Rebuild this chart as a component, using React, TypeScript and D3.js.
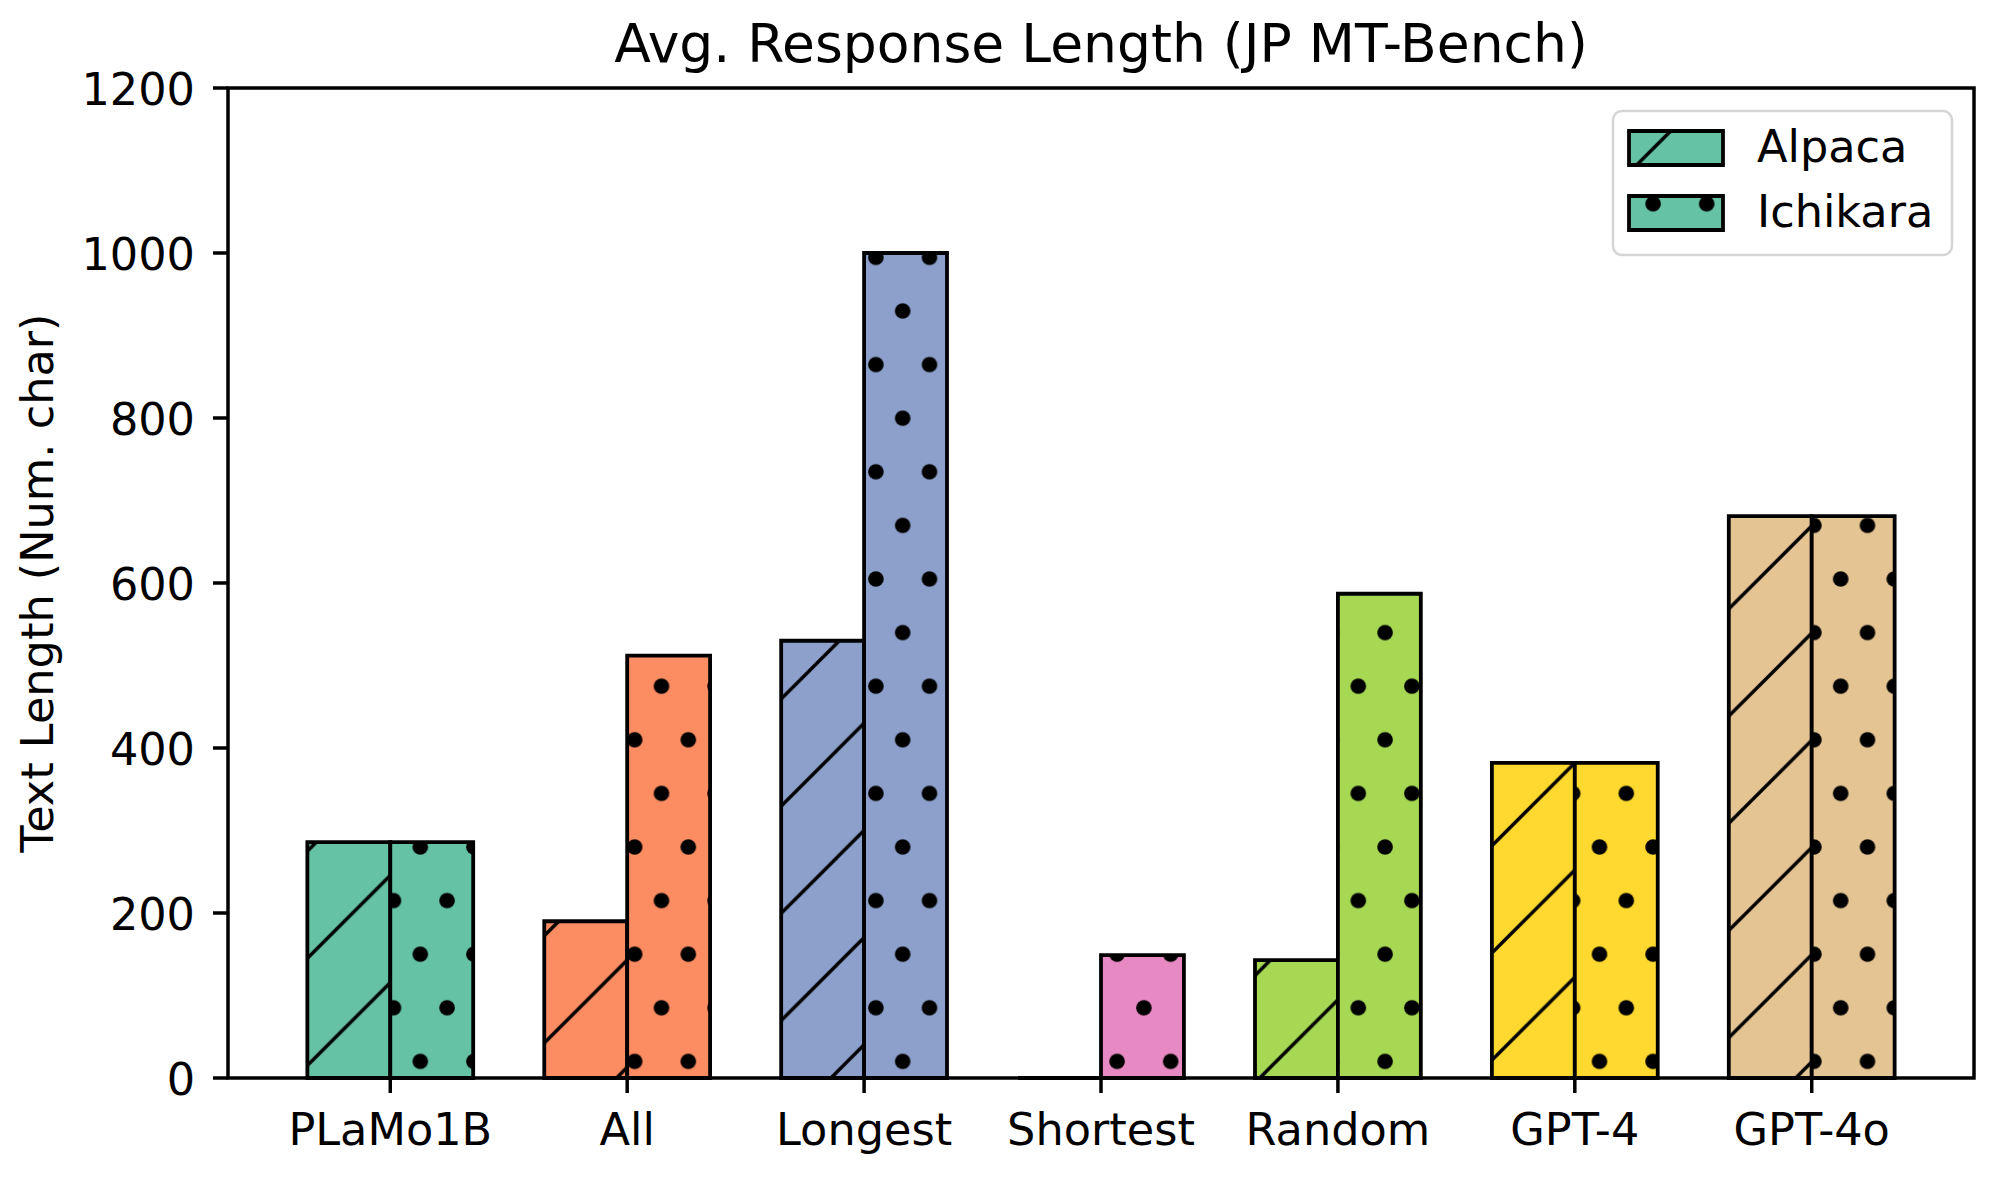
import * as d3 from 'd3';

const categories = ['PLaMo1B', 'All', 'Longest', 'Shortest', 'Random', 'GPT-4', 'GPT-4o'];
const alpaca = [286, 190, 530, 0, 143, 382, 681];
const ichikara = [286, 512, 1000, 149, 587, 382, 681];
const colors = ['#66c2a5', '#fc8d62', '#8da0cb', '#e78ac3', '#a6d854', '#ffd92f', '#e5c494'];
const yTicks = [0, 200, 400, 600, 800, 1000, 1200];
const seriesNames = ['Alpaca', 'Ichikara'];

const W = 1999;
const H = 1179;
const margin = { left: 228, right: 1974, top: 88, bottom: 1078 };
const barW = 0.35;
const font = '"DejaVu Sans", sans-serif';
const fs = 44.6;

// hatch geometry (matches the tiling of the original)
const hatchStep = 107.2;
const dotStep = 53.6;
const dotR = 7.8;

const rectPath = (x0: number, x1: number, y0: number, y1: number) => {
	const p = d3.path();
	p.moveTo(x0, y0);
	p.lineTo(x1, y0);
	p.lineTo(x1, y1);
	p.lineTo(x0, y1);
	p.closePath();
	return p.toString();
};

export default function App() {
	const x = d3.scaleLinear().domain([-0.685, 6.685]).range([margin.left, margin.right]);
	const y = d3.scaleLinear().domain([0, 1200]).range([margin.bottom, margin.top]);

	const bars = categories.flatMap((c, i) => [
		{ key: `a-${c}`, d: rectPath(x(i - barW), x(i), y(0), y(alpaca[i])), color: colors[i], hatch: 'url(#slash)' },
		{ key: `i-${c}`, d: rectPath(x(i), x(i + barW), y(0), y(ichikara[i])), color: colors[i], hatch: 'url(#dots)' },
	]);

	const legendX = 1613;
	const legendY = 111;
	const handles = [
		{ y: 131, hatch: 'url(#slash)' },
		{ y: 196, hatch: 'url(#dots)' },
	];

	return (
		<svg width={W} height={H} style={{ position: 'absolute', left: 0, top: 0, background: '#fff' }}>
			<defs>
				<pattern id="slash" patternUnits="userSpaceOnUse" x={86.5} y={0} width={hatchStep} height={hatchStep}>
					<g stroke="#000" strokeWidth={3.4}>
						<line x1={0} y1={hatchStep} x2={hatchStep} y2={0} />
						<line x1={-hatchStep / 2} y1={hatchStep / 2} x2={hatchStep / 2} y2={-hatchStep / 2} />
						<line x1={hatchStep / 2} y1={hatchStep * 1.5} x2={hatchStep * 1.5} y2={hatchStep / 2} />
					</g>
				</pattern>
				<pattern id="dots" patternUnits="userSpaceOnUse" x={18.3} y={43} width={dotStep} height={dotStep * 2}>
					<g fill="#000">
						<circle cx={0} cy={0} r={dotR} />
						<circle cx={dotStep} cy={0} r={dotR} />
						<circle cx={0} cy={dotStep * 2} r={dotR} />
						<circle cx={dotStep} cy={dotStep * 2} r={dotR} />
						<circle cx={dotStep / 2} cy={dotStep} r={dotR} />
					</g>
				</pattern>
			</defs>
			<rect width={W} height={H} fill="#fff" />

			{/* bars */}
			{bars.map((b) => (
				<g key={b.key}>
					<path d={b.d} fill={b.color} />
					<path d={b.d} fill={b.hatch} />
					<path d={b.d} fill="none" stroke="#000" strokeWidth={3.8} strokeLinejoin="miter" />
				</g>
			))}

			{/* spines */}
			<rect
				x={margin.left}
				y={margin.top}
				width={margin.right - margin.left}
				height={margin.bottom - margin.top}
				fill="none"
				stroke="#000"
				strokeWidth={3.5}
			/>

			{/* y axis */}
			{yTicks.map((t) => (
				<g key={t}>
					<line x1={margin.left - 15} x2={margin.left} y1={y(t)} y2={y(t)} stroke="#000" strokeWidth={3.5} />
					<text x={195} y={y(t) + 17} textAnchor="end" fontFamily={font} fontSize={fs} fill="#000">
						{t}
					</text>
				</g>
			))}

			{/* x axis */}
			{categories.map((c, i) => (
				<g key={c}>
					<line x1={x(i)} x2={x(i)} y1={margin.bottom} y2={margin.bottom + 15} stroke="#000" strokeWidth={3.5} />
					<text x={x(i)} y={1145} textAnchor="middle" fontFamily={font} fontSize={fs} fill="#000">
						{c}
					</text>
				</g>
			))}

			<text x={(margin.left + margin.right) / 2} y={62} textAnchor="middle" fontFamily={font} fontSize={53.5} fill="#000">
				Avg. Response Length (JP MT-Bench)
			</text>
			<text
				transform={`translate(53, ${(margin.top + margin.bottom) / 2}) rotate(-90)`}
				textAnchor="middle"
				fontFamily={font}
				fontSize={fs}
				fill="#000"
			>
				Text Length (Num. char)
			</text>

			{/* legend */}
			<rect x={legendX} y={legendY} width={339} height={144} rx={9} fill="#fff" fillOpacity={0.8} stroke="#d5d5d5" strokeWidth={2.5} />
			{handles.map((h, i) => {
				const d = rectPath(1629, 1723, h.y, h.y + 34);
				return (
					<g key={seriesNames[i]}>
						<path d={d} fill={colors[0]} />
						<path d={d} fill={h.hatch} />
						<path d={d} fill="none" stroke="#000" strokeWidth={3.8} />
						<text x={1757} y={h.y + 31} fontFamily={font} fontSize={fs} fill="#000">
							{seriesNames[i]}
						</text>
					</g>
				);
			})}
		</svg>
	);
}
